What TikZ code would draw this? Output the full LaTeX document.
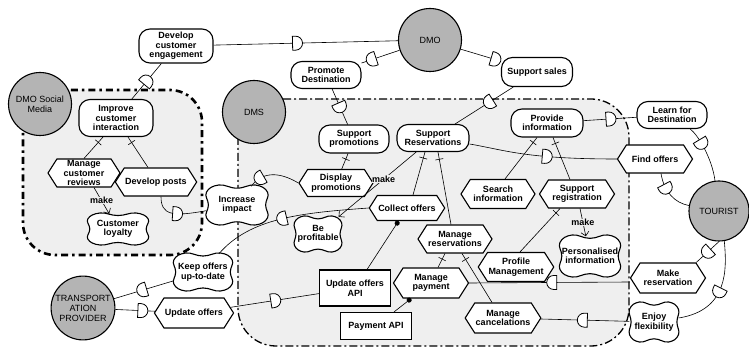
\documentclass[tikz,border=0pt]{standalone}
\usepackage{fontspec}
\setmainfont{Liberation Sans}
\usetikzlibrary{shapes.symbols, arrows.meta, backgrounds}
\definecolor{actorgray}{HTML}{B4B4B4}
\definecolor{bggray}{HTML}{EFEFEF}

\begin{document}
\begin{tikzpicture}[x=1pt, y=-1pt,
  every node/.style={font=\bfseries\fontsize{9}{9.5}\selectfont, align=center, inner sep=1pt},
  actor/.style={circle, draw, line width=1.1pt, fill=actorgray, minimum size=63pt, font=\fontsize{9}{10}\selectfont},
  goal/.style={rectangle, draw, line width=1.1pt, fill=white, rounded corners=11pt, minimum width=71pt, minimum height=28pt},
  task/.style={signal, signal to=east and west, signal pointer angle=115, draw, line width=1.1pt, fill=white, minimum width=74pt, minimum height=28pt},
  softgoal/.style={rectangle, inner sep=0pt},
  resource/.style={rectangle, draw, line width=1.1pt, fill=white, minimum width=71pt, minimum height=27pt},
  smboundary/.style={fill=bggray, line width=2.6pt, dash pattern=on 7pt off 4pt on 2.5pt off 4pt, rounded corners=32pt},
  dmsboundary/.style={fill=bggray, line width=1.3pt, dash pattern=on 8pt off 3pt on 2pt off 3pt, rounded corners=38pt},
  link/.style={line width=0.6pt},
  make/.style={link, -{Straight Barb[length=4pt]}},
  needed/.style={link, -{Circle[length=5pt]}},
  makelabel/.style={fill=bggray, inner sep=0.5pt},
  dpos/.style={pos=#1, sloped, allow upside down},
  dep/.pic={\draw[line width=0.8pt, fill=white] (-4pt,-7pt) -- (-1pt,-7pt) arc[start angle=-90, end angle=90, radius=7pt] -- (-4pt,7pt) -- cycle;},
  bar/.pic={\draw[link] (0pt,-4pt) -- (0pt,4pt);},
  pics/sgshape/.style 2 args={code={
    \draw[line width=1.1pt, fill=white] plot[smooth cycle, tension=.75] coordinates {
      (0,{.42*#2}) ({.28*#1},{.5*#2}) ({.47*#1},{.32*#2}) ({.44*#1},0)
      ({.47*#1},{-.32*#2}) ({.28*#1},{-.5*#2}) (0,{-.42*#2})
      ({-.28*#1},{-.5*#2}) ({-.47*#1},{-.32*#2}) ({-.44*#1},0)
      ({-.47*#1},{.32*#2}) ({-.28*#1},{.5*#2})};
  }}
]
\useasboundingbox (0,0) rectangle (749,352);

% Actors
\node[actor] (dmo) at (430,40) {DMO};
\node[actor] (dmosm) at (40,104) {DMO Social\\Media};
\node[actor] (dms) at (254,112) {DMS};
\node[actor, minimum size=60pt] (tourist) at (719,211) {TOURIST};
\node[actor] (tp) at (83,308) {TRANSPORT\\ATION\\PROVIDER};

% Goals
\node[goal, minimum width=74pt, minimum height=34pt] (dce) at (176,46) {Develop\\customer\\engagement};
\node[goal, minimum width=74pt, minimum height=37pt] (ici) at (116,118) {Improve\\customer\\interaction};
\node[goal, minimum width=70pt, minimum height=27pt] (promdest) at (326,75) {Promote\\Destination};
\node[goal, minimum height=29pt] (supsales) at (537,72) {Support sales};
\node[goal, minimum width=70pt] (supprom) at (354,139) {Support\\promotions};
\node[goal, minimum width=72pt, minimum height=27pt] (supres) at (433,138) {Support\\Reservations};
\node[goal, minimum width=72pt] (provinfo) at (547,123) {Provide\\information};
\node[goal, minimum width=70pt, minimum height=27pt] (learn) at (672,115) {Learn for\\Destination};

% Tasks
\node[task, minimum width=72pt] (mcr) at (84,173) {Manage\\customer\\reviews};
\node[task] (devposts) at (156,182) {Develop posts};
\node[task, minimum height=27pt] (disprom) at (336,183) {Display\\promotions};
\node[task, minimum width=72pt, minimum height=25pt] (collect) at (407,208) {Collect offers};
\node[task, minimum height=29pt] (searchinfo) at (498,194) {Search\\information};
\node[task, minimum width=75pt] (supreg) at (577,194) {Support\\registration};
\node[task, minimum width=75pt] (findoffers) at (655,159) {Find offers};
\node[task] (manres) at (455,239) {Manage\\reservations};
\node[task, minimum height=29pt] (profile) at (516,267) {Profile\\Management};
\node[task, minimum width=75pt, minimum height=30pt] (manpay) at (431,283) {Manage\\payment};
\node[task, minimum height=30pt] (mancancel) at (503,318) {Manage\\cancelations};
\node[task, minimum width=75pt, minimum height=30pt] (makeres) at (668,278) {Make\\reservation};
\node[task, minimum height=30pt] (updoffers) at (194,313) {Update offers};

% Softgoals
\node[softgoal, minimum width=60pt, minimum height=30pt] (loyalty) at (118,229) {Customer\\loyalty};
\node[softgoal, minimum width=61pt, minimum height=37pt] (impact) at (237,205) {Increase\\impact};
\node[softgoal, minimum width=46pt, minimum height=34pt] (profitable) at (318,234) {Be\\profitable};
\node[softgoal, minimum width=58pt, minimum height=36pt] (keepoffers) at (203,272) {Keep offers\\up-to-date};
\node[softgoal, minimum width=60pt, minimum height=39pt] (personal) at (590,256) {Personalised\\information};
\node[softgoal, minimum width=49pt, minimum height=37pt] (flex) at (654,322) {Enjoy\\flexibility};

% Resources
\node[resource, minimum height=36pt] (updapi) at (355,288) {Update offers\\API};
\node[resource] (payapi) at (376,326) {Payment API};

% Boundaries and softgoal outlines
\begin{pgfonlayer}{background}
  \draw[smboundary] (23,90) rectangle (202,255);
  \draw[dmsboundary] (238,99) rectangle (629,346);
  \pic at (loyalty) {sgshape={64}{32}};
  \pic at (impact) {sgshape={65}{40}};
  \pic at (profitable) {sgshape={50}{36}};
  \pic at (keepoffers) {sgshape={62}{38}};
  \pic at (personal) {sgshape={64}{42}};
  \pic at (flex) {sgshape={52}{40}};
\end{pgfonlayer}

% Dependencies
\draw[link] (dce) -- pic[dpos=.45]{dep} (dmo);
\draw[link] (ici) -- pic[dpos=.5]{dep} (dce);
\draw[link] (dmo) -- pic[dpos=.72]{dep} (promdest);
\draw[link] (dmo) -- pic[dpos=.85]{dep} (supsales);
\draw[link] (supsales) -- pic[dpos=.41]{dep} (supres);
\draw[link] (promdest) -- pic[dpos=.5]{dep} (supprom);
\draw[link] (disprom.west) .. controls (285,175) and (265,168) .. pic[dpos=.8]{dep} (impact);
\draw[link] ([xshift=5pt]devposts.south) .. controls (161,215) and (172,217) .. pic[dpos=.62]{dep} (impact);
\draw[link] (collect.west) .. controls (300,213) and (250,218) .. pic[dpos=.48]{dep} (keepoffers);
\draw[link] (keepoffers) -- pic[dpos=.52]{dep} (tp);
\draw[link] (tp) -- pic[dpos=.67]{dep} (updoffers);
\draw[link] (updoffers) -- pic[dpos=.5]{dep} (updapi);
\draw[link] ([yshift=-6pt]supres.east) .. controls (505,150) and (525,159) .. pic[dpos=.67]{dep} (findoffers.west);
\draw[link] (provinfo) -- pic[dpos=.5]{dep} (learn);
\draw[link] (learn) .. controls (698,135) and (712,158) .. pic[dpos=.4]{dep} (tourist);
\draw[link] ([xshift=6pt]findoffers.south) .. controls (664,192) and (675,203) .. pic[dpos=.3]{dep} (tourist);
\draw[link] (tourist.south) -- pic[dpos=.5]{dep} (makeres.north east);
\draw[link] (tourist.-80) .. controls (727,270) and (728,310) .. pic[dpos=.55]{dep} (flex);
\draw[link] ([yshift=-4pt]makeres.west) -- pic[dpos=.48]{dep} (manpay.east);
\draw[link] (flex) -- pic[dpos=.52]{dep} (mancancel);

% Needed-by
\draw[needed] (updapi) -- (collect);
\draw[needed] (payapi) -- (manpay);

% Refinements
\draw[link] ([xshift=-13pt]ici.south) -- pic[pos=.25, sloped]{bar} (mcr.north);
\draw[link] ([xshift=12pt]ici.south) -- pic[pos=.18, sloped]{bar} ([xshift=-8pt]devposts.north);
\draw[link] (supprom) -- pic[pos=.36, sloped]{bar} (disprom);
\draw[link] ([xshift=-8pt]supres.south) -- pic[pos=.14, sloped]{bar} ([xshift=6pt]collect.north);
\draw[link] ([xshift=5pt]supres.south) -- pic[pos=.1, sloped]{bar} ([xshift=-4pt]manres.north);
\draw[link] ([xshift=-10pt]manres.south) -- pic[pos=.4, sloped]{bar} ([xshift=7pt]manpay.north);
\draw[link] ([xshift=7pt]manres.south) -- pic[pos=.12, sloped]{bar} ([xshift=-11pt]mancancel.north);
\draw[link] ([xshift=-10pt]provinfo.south) -- pic[pos=.12, sloped]{bar} ([xshift=7pt]searchinfo.north);
\draw[link] ([xshift=6pt]provinfo.south) -- pic[pos=.14, sloped]{bar} ([xshift=-7pt]supreg.north);
\draw[link] ([xshift=-17pt]supreg.south) -- pic[pos=.1, sloped]{bar} ([xshift=4pt]profile.north);

% Contributions
\draw[make] (supres) -- node[makelabel, pos=.42]{make} (profitable);
\draw[make] ([xshift=3pt]supreg.south) -- node[makelabel]{make} (personal);
\draw[make] ([xshift=10pt]mcr.south) -- node[makelabel]{make} (loyalty);

\end{tikzpicture}
\end{document}
